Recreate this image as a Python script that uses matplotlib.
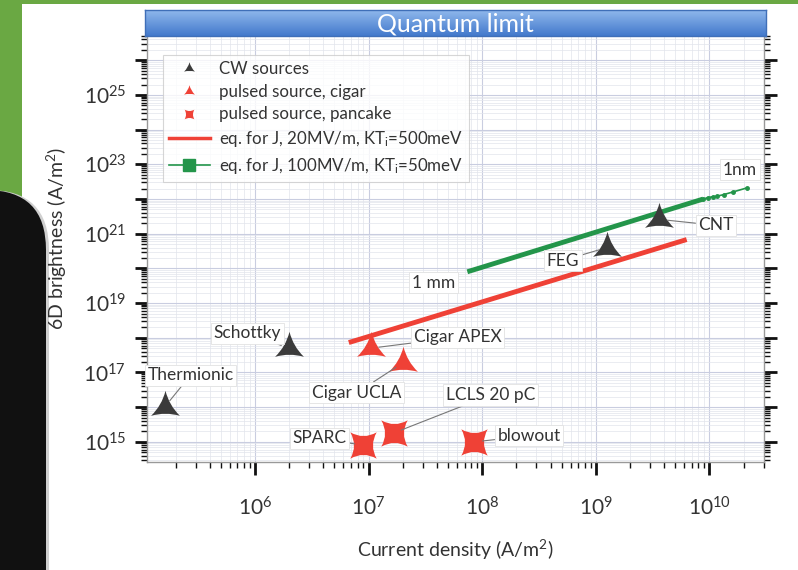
import numpy as np
import matplotlib
matplotlib.use("Agg")
import matplotlib.pyplot as plt
from matplotlib.patches import Rectangle, FancyBboxPatch
from matplotlib.path import Path
from matplotlib.lines import Line2D
from matplotlib.colors import LinearSegmentedColormap
from matplotlib.ticker import LogLocator, FuncFormatter, NullFormatter

plt.rcParams['font.family'] = ['Lato', 'DejaVu Sans']
plt.rcParams['mathtext.fontset'] = 'custom'
plt.rcParams['mathtext.rm'] = 'Lato'
plt.rcParams['mathtext.it'] = 'Lato:italic'
plt.rcParams['mathtext.bf'] = 'Lato:bold'

# ---- data (current density J in A/m^2, 6D brightness in A/m^2) ----
cw_names = ['Thermionic', 'Schottky', 'FEG', 'CNT']
cw_J = [1.6e5, 2.0e6, 1.25e9, 3.6e9]
cw_B = [1.0e16, 5.0e17, 4.0e20, 2.6e21]

cigar_names = ['Cigar APEX', 'Cigar UCLA']
cigar_J = [1.04e7, 2.0e7]
cigar_B = [5.0e17, 1.9e17]

pancake_names = ['SPARC', 'LCLS 20 pC', 'blowout']
pancake_J = [8.9e6, 1.66e7, 8.5e7]
pancake_B = [8.0e14, 1.8e15, 1.0e15]

red_J = [6.7e6, 6.3e9]
red_B = [7.3e17, 6.8e20]

green_J = [7.4e7, 8.8e9]
green_B = [8.0e19, 1.0e22]
green_tail_J = [8.8e9, 9.7e9, 1.07e10, 1.16e10, 1.34e10, 1.61e10, 2.14e10]
green_tail_B = [1.0e22, 1.1e22, 1.17e22, 1.2e22, 1.35e22, 1.6e22, 2.1e22]

legend_labels = ['CW sources', 'pulsed source, cigar', 'pulsed source, pancake',
                 r'eq. for J, 20MV/m, KT$_\mathregular{i}$=500meV',
                 r'eq. for J, 100MV/m, KT$_\mathregular{i}$=50meV']

# label offsets in pixels from the marker (layout only)
label_offsets = {
    'Thermionic': (26, 32), 'Schottky': (-42, 15), 'FEG': (-44, -13), 'CNT': (57, -6),
    'Cigar APEX': (87, 11), 'Cigar UCLA': (-46, -30),
    'SPARC': (-43, 7), 'LCLS 20 pC': (97, 38), 'blowout': (55, 6),
}

DARK = '#3b3b3b'
RED = '#ef4136'
GREEN = '#23954a'
TXT = '#333333'


def star_path(n, inner, start):
    """Concave n-pointed star made of quadratic curves."""
    verts = []
    codes = []
    for k in range(n + 1):
        a = start + 2 * np.pi * k / n
        tip = (np.cos(a), np.sin(a))
        if k == 0:
            verts.append(tip)
            codes.append(Path.MOVETO)
        else:
            m = a - np.pi / n
            verts.append((inner * np.cos(m), inner * np.sin(m)))
            verts.append(tip)
            codes += [Path.CURVE3, Path.CURVE3]
    verts.append((0, 0))
    codes.append(Path.CLOSEPOLY)
    return Path(verts, codes)


tri_marker = star_path(3, 0.25, np.pi / 2)
quad_marker = star_path(4, 0.3, np.pi / 4)

fig = plt.figure(figsize=(7.98, 5.70), dpi=100)

# ---- slide background ----
bg = fig.add_axes([0, 0, 1, 1], zorder=-10)
bg.set_xlim(0, 798)
bg.set_ylim(570, 0)
bg.axis('off')
bg.add_patch(Rectangle((0, 0), 798, 4, color='#6aa843', lw=0))
bg.add_patch(Rectangle((0, 0), 22, 570, color='#6aa843', lw=0))
bg.add_patch(FancyBboxPatch((-120, 190), 169, 500, boxstyle='round,pad=0,rounding_size=60',
                            fc='#d0d0d0', ec='none'))
dark = FancyBboxPatch((-120, 190), 166, 500, boxstyle='round,pad=0,rounding_size=60',
                      fc='#111111', ec='none')
bg.add_patch(dark)
grad = np.linspace(0, 1, 256).reshape(-1, 1)
im = bg.imshow(grad, extent=[-120, 50, 570, 185], aspect='auto',
               cmap=LinearSegmentedColormap.from_list('d', ['#454545', '#000000']))
im.set_clip_path(dark)
bg.set_xlim(0, 798)
bg.set_ylim(570, 0)

# ---- main axes ----
ax = fig.add_axes([147 / 798, 1 - 462 / 570, 617 / 798, 426 / 570])
ax.set_xscale('log')
ax.set_yscale('log')
ax.set_xlim(10 ** 5.05, 10 ** 10.48)
ax.set_ylim(10 ** 14.42, 10 ** 26.7)

ax.xaxis.set_major_locator(LogLocator(base=10, numticks=30))
ax.yaxis.set_major_locator(LogLocator(base=10, numticks=30))
ax.xaxis.set_minor_locator(LogLocator(base=10, subs=np.arange(2, 10), numticks=200))
ax.yaxis.set_minor_locator(LogLocator(base=10, subs=np.arange(2, 10), numticks=200))
ax.xaxis.set_minor_formatter(NullFormatter())
ax.yaxis.set_minor_formatter(NullFormatter())


def xfmt(v, pos):
    e = int(round(np.log10(v)))
    return r'$\mathregular{10^{%d}}$' % e


def yfmt(v, pos):
    e = int(round(np.log10(v)))
    if e % 2 == 0:
        return ''
    return r'$\mathregular{10^{%d}}$' % e


ax.xaxis.set_major_formatter(FuncFormatter(xfmt))
ax.yaxis.set_major_formatter(FuncFormatter(yfmt))

ax.grid(True, which='major', color='#c9cde0', lw=0.8)
ax.grid(True, which='minor', color='#e2e4ec', lw=0.5)
ax.set_axisbelow(True)

ax.tick_params(which='major', direction='out', length=9, width=2, color='#111111',
               labelsize=15, labelcolor=TXT, pad=6)
ax.tick_params(which='minor', direction='out', length=4, width=1, color='#111111')
ax.tick_params(axis='y', which='both', right=True, left=True)
ax.tick_params(axis='x', which='both', top=False)
ax.tick_params(axis='x', which='major', pad=16)
for s in ['left', 'bottom', 'right']:
    ax.spines[s].set_color('#999999')
    ax.spines[s].set_linewidth(1)
ax.spines['top'].set_visible(False)

# ---- lines ----
ax.plot(red_J, red_B, color=RED, lw=3.5, solid_capstyle='butt', zorder=3)
ax.plot(green_J, green_B, color=GREEN, lw=3.5, solid_capstyle='butt', zorder=3)
ax.plot(green_tail_J, green_tail_B, color=GREEN, lw=1.2, marker='o', ms=2.5, zorder=3)

# ---- points ----
ax.plot(cw_J, cw_B, ls='none', marker=tri_marker, ms=24, color=DARK, mec='none', zorder=4)
ax.plot(cigar_J, cigar_B, ls='none', marker=tri_marker, ms=24, color=RED, mec='none', zorder=4)
ax.plot(pancake_J, pancake_B, ls='none', marker=quad_marker, ms=19, color=RED, mec='none', zorder=4)

box = dict(boxstyle='square,pad=0.15', fc='white', ec='#e2e2e2', lw=0.6)
arrow = dict(arrowstyle='-', color='#777777', lw=0.8, shrinkA=0, shrinkB=6)
for names, xs, ys in [(cw_names, cw_J, cw_B), (cigar_names, cigar_J, cigar_B),
                      (pancake_names, pancake_J, pancake_B)]:
    for name, x, y in zip(names, xs, ys):
        ax.annotate(name, xy=(x, y), xytext=label_offsets[name], textcoords='offset pixels',
                    ha='center', va='center', fontsize=12.5, color=TXT,
                    bbox=box, arrowprops=arrow, zorder=5)

ax.annotate('1 mm', xy=(green_J[0], green_B[0]), xytext=(-34, -11), textcoords='offset pixels',
            ha='center', va='center', fontsize=12.5, color=TXT, bbox=box, zorder=5)
ax.annotate('1nm', xy=(green_tail_J[-1], green_tail_B[-1]), xytext=(-7, 18),
            textcoords='offset pixels', ha='center', va='center', fontsize=12.5, color=TXT,
            bbox=box, zorder=5)

# ---- legend ----
handles = [
    Line2D([], [], ls='none', marker=tri_marker, ms=9, color=DARK, mec='none'),
    Line2D([], [], ls='none', marker=tri_marker, ms=9, color=RED, mec='none'),
    Line2D([], [], ls='none', marker=quad_marker, ms=7, color=RED, mec='none'),
    Line2D([], [], color=RED, lw=2.5),
    Line2D([], [], color=GREEN, lw=1.2, marker='s', ms=8),
]
leg = ax.legend(handles, legend_labels, loc='upper left',
                bbox_to_anchor=(163 / 798, 1 - 55 / 570), bbox_transform=fig.transFigure,
                fontsize=12.2, frameon=True, fancybox=False, handlelength=2.4,
                handletextpad=0.55, labelspacing=0.4, borderpad=0.35, borderaxespad=0)
leg.get_frame().set_edgecolor('#cccccc')
leg.get_frame().set_linewidth(0.8)
for t in leg.get_texts():
    t.set_color(TXT)
leg.set_zorder(6)

# ---- title bar ----
tb = fig.add_axes([145 / 798, 1 - 36 / 570, 621 / 798, 26 / 570], zorder=8)
tb.imshow(np.linspace(0, 1, 64).reshape(-1, 1), aspect='auto', extent=[0, 1, 0, 1],
          cmap=LinearSegmentedColormap.from_list('b', ['#8fb8ec', '#4379cc']))
tb.set_xticks([])
tb.set_yticks([])
for s in tb.spines.values():
    s.set_color('#3f6fb8')
    s.set_linewidth(1)
tb.text(0.5, 0.45, 'Quantum limit', transform=tb.transAxes, ha='center', va='center',
        color='white', fontsize=18)

# ---- axis labels ----
fig.text(455 / 798, 1 - 550 / 570, r'Current density (A/m$^\mathregular{2}$)',
         ha='center', va='center', fontsize=14, color=TXT)
fig.text(57 / 798, 1 - 238 / 570, r'6D brightness (A/m$^\mathregular{2}$)',
         ha='center', va='center', rotation=90, fontsize=14, color=TXT)

fig.savefig('out.png', dpi=100)
